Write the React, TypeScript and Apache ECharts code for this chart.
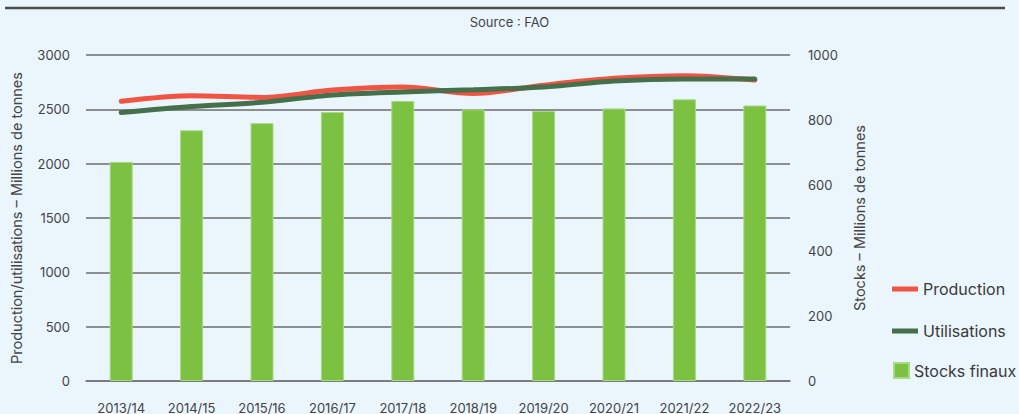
import React, { useEffect, useRef } from "react";
import * as echarts from "echarts";

const categories = ["2013/14", "2014/15", "2015/16", "2016/17", "2017/18", "2018/19", "2019/20", "2020/21", "2021/22", "2022/23"];
const production = [2575, 2625, 2610, 2677, 2705, 2645, 2722, 2785, 2810, 2770];
const utilisations = [2470, 2525, 2565, 2632, 2660, 2680, 2705, 2760, 2780, 2778];
const stocksFinaux = [672, 769, 791, 825, 859, 833, 828, 836, 864, 845];
const leftTicks = [0, 3000, 500];
const rightTicks = [0, 1000, 200];

const FONT = "Inter, 'Noto Sans', sans-serif";
const BG = "#eaf5fc";

export default function App() {
  const ref = useRef<HTMLDivElement>(null);
  useEffect(() => {
    document.body.style.margin = "0";
    document.body.style.background = BG;
    if (!ref.current) return;
    const chart = echarts.init(ref.current, undefined, { renderer: "svg" });
    chart.setOption({
      animation: false,
      backgroundColor: BG,
      textStyle: { fontFamily: FONT },
      graphic: [
        { type: "line", shape: { x1: 5, y1: 8, x2: 1005, y2: 8 }, style: { stroke: "#4d4d4d", lineWidth: 2.5 } },
        {
          type: "text",
          left: "center",
          top: 15,
          style: { text: "Source : FAO", fontSize: 13, fill: "#444", fontFamily: FONT },
        },
      ],
      grid: { left: 86, right: 229, top: 55, bottom: 32, containLabel: false },
      legend: [
        {
          orient: "vertical",
          left: 892,
          top: 281,
          padding: 0,
          itemWidth: 26,
          itemHeight: 5,
          itemGap: 26,
          textStyle: { fontSize: 16, color: "#3a3a3a", fontFamily: FONT },
          data: [
            { name: "Production", icon: "rect" },
            { name: "Utilisations", icon: "rect" },
          ],
        },
        {
          orient: "vertical",
          left: 893,
          top: 362,
          padding: 0,
          itemWidth: 15,
          itemHeight: 15,
          textStyle: { fontSize: 16, color: "#3a3a3a", fontFamily: FONT },
          data: [{ name: "Stocks finaux", icon: "rect" }],
        },
      ],
      xAxis: {
        type: "category",
        data: categories,
        axisTick: { show: false },
        axisLine: { lineStyle: { color: "#777", width: 1.5 } },
        axisLabel: { color: "#444", fontSize: 13, margin: 20, fontFamily: FONT },
      },
      yAxis: [
        {
          type: "value",
          min: leftTicks[0],
          max: leftTicks[1],
          interval: leftTicks[2],
          name: "Production/utilisations – Millions de tonnes",
          nameLocation: "middle",
          nameGap: 62,
          nameTextStyle: { fontSize: 14.5, color: "#444", fontFamily: FONT },
          axisLine: { show: false },
          axisTick: { show: false },
          axisLabel: { color: "#444", fontSize: 13, margin: 16, fontFamily: FONT, formatter: (v: number) => String(v) },
          splitLine: { lineStyle: { color: "#6d6d6d", width: 1.5 } },
        },
        {
          type: "value",
          min: rightTicks[0],
          max: rightTicks[1],
          interval: rightTicks[2],
          name: "Stocks – Millions de tonnes",
          nameLocation: "middle",
          nameGap: 62,
          nameRotate: 90,
          nameTextStyle: { fontSize: 14.5, color: "#444", fontFamily: FONT },
          axisLine: { show: false },
          axisTick: { show: false },
          axisLabel: { color: "#444", fontSize: 13, margin: 18, fontFamily: FONT, formatter: (v: number) => String(v) },
          splitLine: { show: false },
        },
      ],
      series: [
        {
          name: "Stocks finaux",
          type: "bar",
          yAxisIndex: 1,
          data: stocksFinaux,
          barWidth: 23,
          itemStyle: { color: "#7cc142", borderColor: "#a9d984", borderWidth: 1 },
          z: 1,
        },
        {
          name: "Production",
          type: "line",
          data: production,
          smooth: 0.3,
          showSymbol: false,
          lineStyle: { color: "#f25444", width: 5, cap: "round" },
          itemStyle: { color: "#f25444" },
          z: 3,
        },
        {
          name: "Utilisations",
          type: "line",
          data: utilisations,
          smooth: 0.3,
          showSymbol: false,
          lineStyle: { color: "#466f4b", width: 5, cap: "round" },
          itemStyle: { color: "#466f4b" },
          z: 4,
        },
      ],
    });
    return () => chart.dispose();
  }, []);
  return <div ref={ref} style={{ width: 1019, height: 414 }} />;
}
